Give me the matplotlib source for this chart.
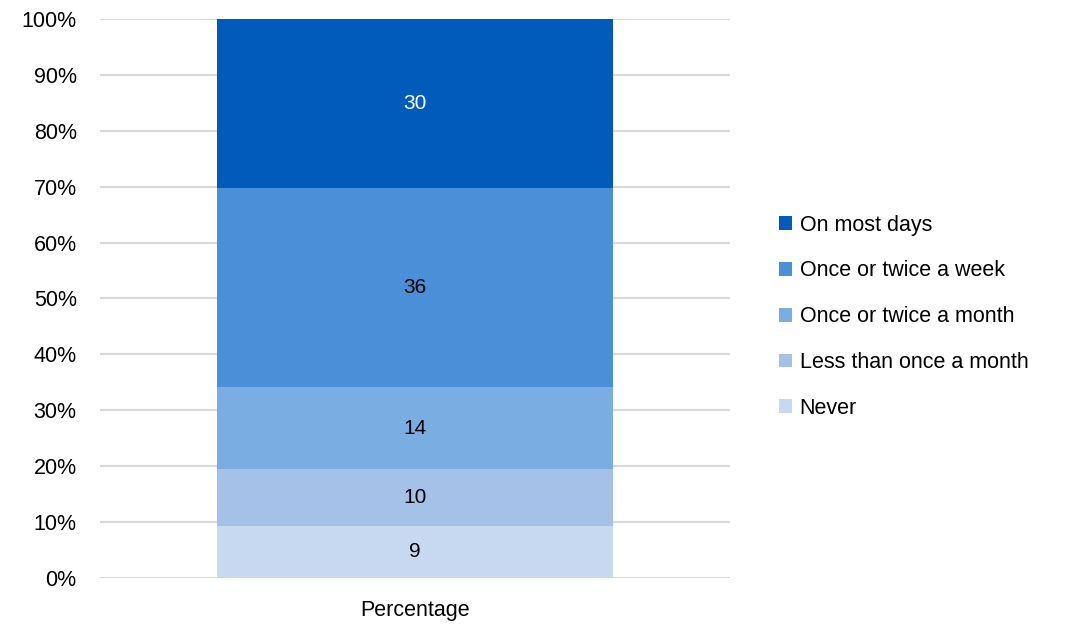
import matplotlib.pyplot as plt
from matplotlib.ticker import PercentFormatter

plt.rcParams["font.family"] = ["Liberation Sans", "DejaVu Sans"]

CATEGORY = "Percentage"
SERIES = ["Never", "Less than once a month", "Once or twice a month",
          "Once or twice a week", "On most days"]
SHARES = [9.3, 10.2, 14.6, 35.7, 30.2]   # segment heights (%)
LABELS = ["9", "10", "14", "36", "30"]   # printed data labels
COLORS = ["#c7d9f0", "#a5c1e8", "#7aade2", "#4a90d9", "#005bbb"]
TEXT_COLORS = ["black", "black", "black", "black", "white"]

fig = plt.figure(figsize=(10.67, 6.26), dpi=100)
ax = fig.add_axes([0.094, 0.0767, 0.59, 0.893])

bottom = 0.0
handles = []
for name, val, lab, col, tc in zip(SERIES, SHARES, LABELS, COLORS, TEXT_COLORS):
    b = ax.bar([CATEGORY], [val], bottom=bottom, width=0.629, color=col, label=name, zorder=3)
    handles.append(b)
    ax.text(0, bottom + val / 2, lab, ha="center", va="center", fontsize=15, color=tc, zorder=4)
    bottom += val

ax.set_xlim(-0.5, 0.5)
ax.set_ylim(0, 100)
ax.set_yticks(range(0, 101, 10))
ax.yaxis.set_major_formatter(PercentFormatter(decimals=0))
ax.grid(axis="y", color="#d9d9d9", linewidth=1.5, zorder=0)
for s in ax.spines.values():
    s.set_visible(False)
ax.tick_params(axis="both", length=0, labelsize=15.5, colors="black")
ax.tick_params(axis="y", pad=17)
ax.tick_params(axis="x", pad=16)

leg = fig.legend(handles[::-1], SERIES[::-1], loc="center left", bbox_to_anchor=(0.712, 0.494),
                 frameon=False, fontsize=15.5, handlelength=0.6, handleheight=0.6,
                 handletextpad=0.35, labelspacing=1.15)

fig.savefig("out.png", dpi=100)
